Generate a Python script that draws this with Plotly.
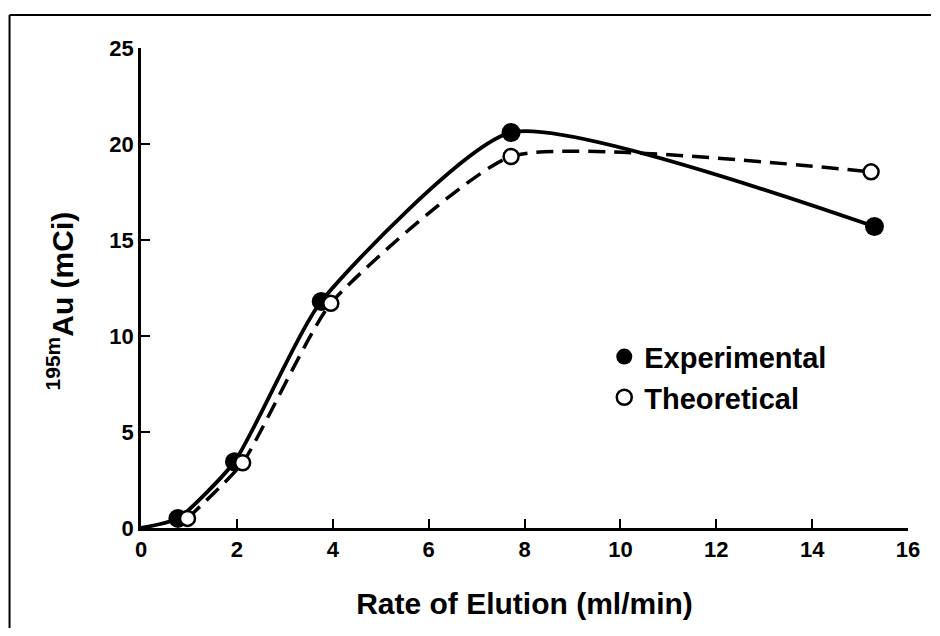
import plotly.graph_objects as go

# Data
exp_x = [0.77, 1.95, 3.76, 7.72, 15.3]
exp_y = [0.5, 3.45, 11.8, 20.6, 15.7]
theo_x = [0.97, 2.12, 3.96, 7.72, 15.23]
theo_y = [0.5, 3.4, 11.7, 19.35, 18.55]
origin_x = [0.0]
origin_y = [0.0]

x_ticks = [0, 2, 4, 6, 8, 10, 12, 14, 16]
y_ticks = [0, 5, 10, 15, 20, 25]

FONT = "Liberation Sans"

fig = go.Figure()

# smooth experimental curve (starts at origin)
fig.add_trace(go.Scatter(
    x=origin_x + exp_x, y=origin_y + exp_y, mode="lines",
    line=dict(color="black", width=3.8, shape="spline", smoothing=0.55),
    showlegend=False, hoverinfo="skip"))
# smooth theoretical curve (dashed)
fig.add_trace(go.Scatter(
    x=theo_x, y=theo_y, mode="lines",
    line=dict(color="black", width=3.5, shape="spline", smoothing=0.5, dash="17px,9px"),
    showlegend=False, hoverinfo="skip"))

fig.add_trace(go.Scatter(
    x=exp_x, y=exp_y, mode="markers", name="Experimental",
    marker=dict(symbol="circle", size=19, color="black",
                line=dict(color="black", width=0))))
fig.add_trace(go.Scatter(
    x=theo_x, y=theo_y, mode="markers", name="Theoretical",
    marker=dict(symbol="circle", size=15, color="white",
                line=dict(color="black", width=2.5))))

fig.update_layout(
    width=924, height=620,
    margin=dict(l=133, r=21, t=40, b=100),
    paper_bgcolor="white", plot_bgcolor="white",
    font=dict(family=FONT, color="black", size=22, weight="bold"),
    legend=dict(x=0.604, y=0.41, xanchor="left", yanchor="top",
                font=dict(family=FONT, size=29, color="black", weight="bold"),
                bgcolor="rgba(0,0,0,0)", borderwidth=0, tracegroupgap=0),
    xaxis=dict(range=[0, 16], tickvals=x_ticks, ticktext=[str(v) for v in x_ticks],
               showgrid=False, zeroline=False, showline=True, linecolor="black",
               linewidth=2.5, ticks="inside", ticklen=9, tickwidth=2,
               tickcolor="black", tickfont=dict(size=22, weight="bold"),
               title=dict(text="Rate of Elution (ml/min)",
                          font=dict(size=30, weight="bold"), standoff=32)),
    yaxis=dict(range=[0, 25], tickvals=y_ticks, ticktext=[str(v) for v in y_ticks],
               showgrid=False, zeroline=False, showline=True, linecolor="black",
               linewidth=2.5, ticks="inside", ticklen=9, tickwidth=2,
               tickcolor="black", tickfont=dict(size=22, weight="bold")),
    annotations=[dict(text="<sup>195m</sup>Au (mCi)", xref="paper", yref="paper",
                      x=-0.105, y=0.473, xanchor="center", yanchor="middle",
                      textangle=-90, showarrow=False,
                      font=dict(family=FONT, size=30, color="black", weight="bold"))],
    shapes=[
        dict(type="line", xref="paper", yref="paper",
             x0=-0.1714, x1=1.03, y0=1.06875, y1=1.06875,
             line=dict(color="black", width=2)),
        dict(type="line", xref="paper", yref="paper",
             x0=-0.1714, x1=-0.1714, y0=-0.21, y1=1.06875,
             line=dict(color="black", width=2)),
    ],
)

fig.write_html("out.html")
